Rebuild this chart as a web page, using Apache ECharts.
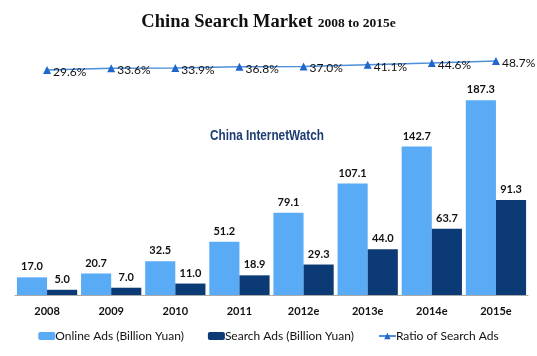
<!DOCTYPE html>
<html>
<head>
<meta charset="utf-8">
<script src="https://cdn.jsdelivr.net/npm/echarts@6/dist/echarts.min.js"></script>
<style>html,body{margin:0;padding:0;background:#fff;}#c{width:537px;height:356px;}</style>
</head>
<body>
<div id="c"></div>
<script>
var categories = ['2008','2009','2010','2011','2012e','2013e','2014e','2015e'];
var onlineAds = [17.0, 20.7, 32.5, 51.2, 79.1, 107.1, 142.7, 187.3];
var searchAds = [5.0, 7.0, 11.0, 18.9, 29.3, 44.0, 63.7, 91.3];
var ratio = [29.6, 33.6, 33.9, 36.8, 37.0, 41.1, 44.6, 48.7];

var chart = echarts.init(document.getElementById('c'), null, {renderer:'canvas'});
var font = 'Lato, "Noto Sans", sans-serif';
chart.setOption({
  animation: false,
  backgroundColor: '#fff',
  title: {
    left: 'center', top: 8,
    text: '{a|China Search Market} {b|2008 to 2015e}',
    textStyle: {
      rich: {
        a: {fontFamily: '"Liberation Serif", serif', fontWeight: 'bold', fontSize: 18.5, color: '#111'},
        b: {fontFamily: '"Liberation Serif", serif', fontWeight: 'bold', fontSize: 13.5, color: '#111', padding: [3,0,0,0]}
      }
    }
  },
  graphic: [{
    type: 'text', x: 210, y: 129, scaleX: 0.84,
    style: {text: 'China InternetWatch', fill: '#1c3d73', font: 'bold 14px "Liberation Sans", sans-serif'}
  }],
  legend: {
    bottom: 9, left: 'center',
    itemWidth: 17, itemHeight: 8, itemGap: 24,
    textStyle: {fontFamily: font, fontSize: 12, color: '#111', padding: [0,0,0,-5]},
    data: ['Online Ads (Billion Yuan)', 'Search Ads (Billion Yuan)', 'Ratio of Search Ads']
  },
  grid: [
    {left: 15, right: 9, top: 87, bottom: 61},
    {left: 15, right: 9, top: 37, height: 47}
  ],
  xAxis: [
    {type: 'category', gridIndex: 0, data: categories,
     axisLine: {lineStyle: {color: '#aaa'}}, axisTick: {show: false},
     axisLabel: {color: '#111', fontFamily: font, fontWeight: 'bold', fontSize: 11, margin: 11}},
    {type: 'category', gridIndex: 1, data: categories, show: false}
  ],
  yAxis: [
    {type: 'value', gridIndex: 0, min: 0, max: 200, show: false, splitLine: {show: false}},
    {type: 'value', gridIndex: 1, min: 0, max: 100, show: false, splitLine: {show: false}}
  ],
  series: [
    {name: 'Online Ads (Billion Yuan)', type: 'bar', xAxisIndex: 0, yAxisIndex: 0,
     data: onlineAds, barGap: '0%', barCategoryGap: '6%',
     itemStyle: {color: '#5aabf6'},
     label: {show: true, position: 'top', distance: 5, color: '#111', fontFamily: font, fontWeight: 'bold', fontSize: 11,
             formatter: function(p){return p.value.toFixed(1);}}},
    {name: 'Search Ads (Billion Yuan)', type: 'bar', xAxisIndex: 0, yAxisIndex: 0,
     data: searchAds,
     itemStyle: {color: '#0b3a74'},
     label: {show: true, position: 'top', distance: 5, color: '#111', fontFamily: font, fontWeight: 'bold', fontSize: 11,
             formatter: function(p){return p.value.toFixed(1);}}},
    {name: 'Ratio of Search Ads', type: 'line', xAxisIndex: 1, yAxisIndex: 1,
     data: ratio, symbol: 'triangle', symbolSize: 8,
     lineStyle: {color: '#4d8fd9', width: 1.5},
     itemStyle: {color: '#1f66cc'},
     label: {show: true, position: 'right', distance: 2, offset: [0, 2], color: '#111', fontFamily: font, fontSize: 12,
             formatter: function(p){return p.value.toFixed(1) + '%';}}}
  ]
});
</script>
</body>
</html>
